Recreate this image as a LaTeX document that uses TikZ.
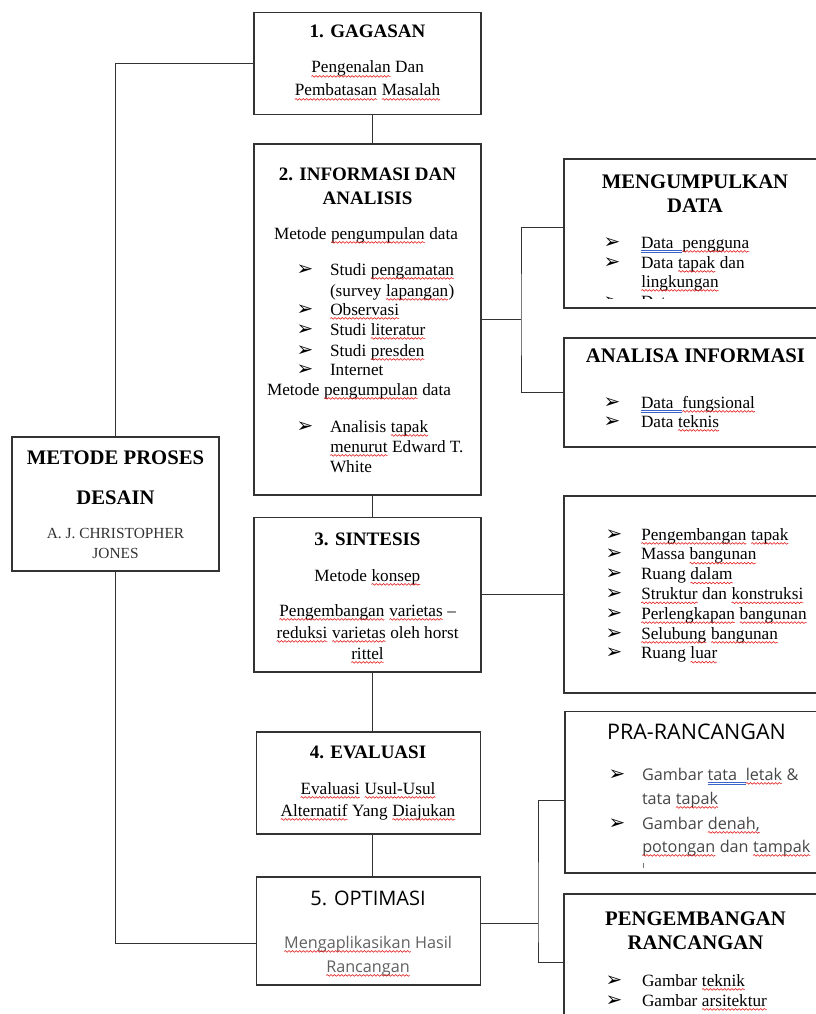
\documentclass[tikz,border=0pt]{standalone}
\usepackage{fontspec}
\setmainfont{Liberation Serif}
\newfontfamily\osans{Open Sans}
\newfontfamily\djv{DejaVu Sans}
\usepackage{xcolor}
\usetikzlibrary{decorations.pathmorphing}
\definecolor{wavered}{RGB}{230,20,20}
\definecolor{gramblue}{RGB}{60,100,200}
\newcommand\sq[1]{\tikz[baseline=(sqw.base),x=1pt,y=1pt]{\node[inner sep=0pt,outer sep=0pt,anchor=base] (sqw) at (0,0) {#1};\draw[wavered,line width=0.55pt,decorate,decoration={snake,segment length=3.6pt,amplitude=0.85pt}] ([yshift=-3.4pt]sqw.base west) -- ([yshift=-3.4pt]sqw.base east);}}
\newcommand\dbl[1]{\setbox0=\hbox{#1}\rlap{\textcolor{gramblue}{\rule[-2.4pt]{\wd0}{0.5pt}}}\rlap{\textcolor{gramblue}{\rule[-4.0pt]{\wd0}{0.5pt}}}\box0}
\newcommand\ttl{\fontsize{19}{22}\selectfont\bfseries}
\newcommand\bigttl{\fontsize{20.7}{24}\selectfont\bfseries}
\newcommand\bod{\fontsize{17.2}{20}\selectfont}
\newcommand\smal{\fontsize{15.4}{18}\selectfont}
\newcommand\sttl{\osans\fontsize{20}{24}\selectfont}
\newcommand\sbod{\osans\fontsize{16.2}{20}\selectfont}
\newcommand\bul{{\djv\fontsize{20}{20}\selectfont ➢}}
\newcounter{tn}
\newcommand\T[4][]{\stepcounter{tn}\node[ln,#1] (t\arabic{tn}) at (#2,#3) {#4};}
\newcommand\Bu[4]{\stepcounter{tn}\node[ln,text=black] (t\arabic{tn}) at (#1,#3) {\bul};\stepcounter{tn}\node[ln,anchor=base west] (t\arabic{tn}) at (#2,#3) {#4};}
\tikzset{
  box/.style={draw=black!80, line width=1.1pt, anchor=north west, inner sep=0pt, outer sep=0pt},
  con/.style={draw=black!80, line width=1pt},
  ln/.style={anchor=base, inner sep=0pt, outer sep=0pt},
}
\begin{document}
\begin{tikzpicture}[x=1pt,y=-1pt]
\useasboundingbox (0,0) rectangle (816,1014);
\fill[white] (0,0) rectangle (816,1014);
\clip (0,0) rectangle (816,1014);

% ---------- boxes ----------
\node[box, minimum width=227pt, minimum height=102pt] (b1) at (254,12.3) {};
\node[box, minimum width=227pt, minimum height=351pt] (b2) at (254,144) {};
\node[box, minimum width=207pt, minimum height=134pt] (m) at (12,437) {};
\node[box, minimum width=227pt, minimum height=154.5pt] (b3) at (254,517.5) {};
\node[box, minimum width=224pt, minimum height=102pt] (b4) at (256.7,732) {};
\node[box, minimum width=224pt, minimum height=108pt] (b5) at (256.7,877) {};
\node[box, minimum width=280pt, minimum height=149pt] (r1) at (564,159) {};
\node[box, minimum width=280pt, minimum height=109pt] (r2) at (564,338) {};
\node[box, minimum width=280pt, minimum height=197pt] (r3) at (564,496) {};
\node[box, minimum width=280pt, minimum height=161.5pt] (r4) at (565,711.5) {};
\node[box, minimum width=280pt, minimum height=150pt] (r5) at (564,894) {};

% ---------- connectors ----------
\coordinate (spine) at (372,0);
\draw[con] (b1.south -| spine) -- (b2.north -| spine);
\draw[con] (b2.south -| spine) -- (b3.north -| spine);
\draw[con] (b3.south -| spine) -- (b4.north -| spine);
\draw[con] (b4.south -| spine) -- (b5.north -| spine);
\draw[con] (m.north) |- (b1.west);
\draw[con] (m.south) |- (b5.west |- 0,943);
\coordinate (j1) at (521,319.5);
\draw[con] (b2.east) -- (j1);
\draw[con] (r1.west |- 0,227) -| (j1) |- (r2.west);
\draw[con] (b3.east) -- (r3.west |- b3.east);
\coordinate (j2) at (538,923);
\draw[con] (b5.east |- j2) -- (j2);
\draw[con] (r4.west |- 0,800) -| (j2) |- (r5.west |- 0,962);

% ---------- box 1 ----------
\begin{scope}[every node/.append style={font=\bod}]
\T{367.5}{38}{\ttl 1. GAGASAN}
\T{367.5}{73}{\sq{Pengenalan} Dan}
\T{367.5}{96}{\sq{Pembatasan} \sq{Masalah}}
% ---------- box 2 ----------
\T{367.5}{180}{\ttl 2. INFORMASI DAN}
\T{367.5}{204}{\ttl ANALISIS}
\T{366}{239}{Metode \sq{pengumpulan} data}
\Bu{305}{330}{275}{Studi \sq{pengamatan}}
\T[anchor=base west]{330}{296}{(survey \sq{lapangan})}
\Bu{305}{330}{315}{\sq{Observasi}}
\Bu{305}{330}{335}{Studi \sq{literatur}}
\Bu{305}{330}{356}{Studi \sq{presden}}
\Bu{305}{330}{375}{Internet}
\T[anchor=base west]{267}{395}{Metode \sq{pengumpulan} data}
\Bu{305}{330}{432}{Analisis \sq{tapak}}
\T[anchor=base west]{330}{452}{\sq{menurut} Edward T.}
\T[anchor=base west]{330}{472}{White}
% ---------- box 3 ----------
\T{367.5}{545}{\ttl 3. SINTESIS}
\T{367.5}{581}{Metode \sq{konsep}}
\T{367.5}{616}{\sq{Pengembangan} \sq{varietas} –}
\T{367.5}{638}{\sq{reduksi} \sq{varietas} oleh horst}
\T{367.5}{659}{\sq{rittel}}
% ---------- box 4 ----------
\T{368}{758}{\ttl 4. EVALUASI}
\T{368}{794}{\sq{Evaluasi} \sq{Usul-Usul}}
\T{368}{816}{\sq{Alternatif} Yang \sq{Diajukan}}
% ---------- right boxes ----------
\T{695}{188}{\bigttl MENGUMPULKAN}
\T{695}{212}{\bigttl DATA}
\Bu{612}{641}{248}{\dbl{Data\ \ }\sq{pengguna}}
\Bu{612}{641}{268}{Data \sq{tapak} dan}
\T[anchor=base west]{641}{287}{\sq{lingkungan}}
\begin{scope}
\clip (564,159) rectangle (840,298);
\Bu{612}{641}{307.5}{Data}
\end{scope}
\T{695.5}{362}{\bigttl ANALISA INFORMASI}
\Bu{612}{641}{408}{\dbl{Data\ \ }\sq{fungsional}}
\Bu{612}{641}{427}{Data \sq{teknis}}
\Bu{614}{641}{540}{\sq{Pengembangan} \sq{tapak}}
\Bu{614}{641}{559.8}{Massa \sq{bangunan}}
\Bu{614}{641}{579.6}{Ruang \sq{dalam}}
\Bu{614}{641}{599.4}{\sq{Struktur} dan \sq{konstruksi}}
\Bu{614}{641}{619.2}{\sq{Perlengkapan} \sq{bangunan}}
\Bu{614}{641}{639}{\sq{Selubung} \sq{bangunan}}
\Bu{614}{641}{658.8}{Ruang \sq{luar}}
\T{695.5}{925}{\bigttl PENGEMBANGAN}
\T{695.5}{949.5}{\bigttl RANCANGAN}
\Bu{614}{642}{986}{Gambar \sq{teknik}}
\Bu{614}{642}{1006}{Gambar \sq{arsitektur}}
% ---------- metode ----------
\T{115.5}{464}{\bigttl METODE PROSES}
\T{115.5}{504}{\bigttl DESAIN}
\T[text=black!80]{115.5}{538}{\smal A. J. CHRISTOPHER}
\T[text=black!80]{115.5}{558}{\smal JONES}
\end{scope}

% ---------- sans boxes ----------
\begin{scope}[every node/.append style={font=\sbod}]
\T[text=black]{368}{905}{\sttl 5. OPTIMASI}
\T[text=black!62]{368}{948}{\sq{Mengaplikasikan} Hasil}
\T[text=black!62]{368}{972}{\sq{Rancangan}}
\T[text=black]{696.5}{739}{\osans\fontsize{21.5}{24}\selectfont PRA-RANCANGAN}
\end{scope}
\begin{scope}[every node/.append style={font=\sbod, text=black!72}]
\Bu{617}{642}{780}{Gambar \dbl{tata\ \ }\sq{letak} \&}
\T[anchor=base west]{642}{804}{tata \sq{tapak}}
\Bu{617}{642}{829}{Gambar \sq{denah,}}
\T[anchor=base west]{642}{852}{\sq{potongan} dan \sq{tampak}}
\end{scope}
\draw[black!55, line width=0.7pt] (643,863) -- (643,867.5);
\end{tikzpicture}
\end{document}
